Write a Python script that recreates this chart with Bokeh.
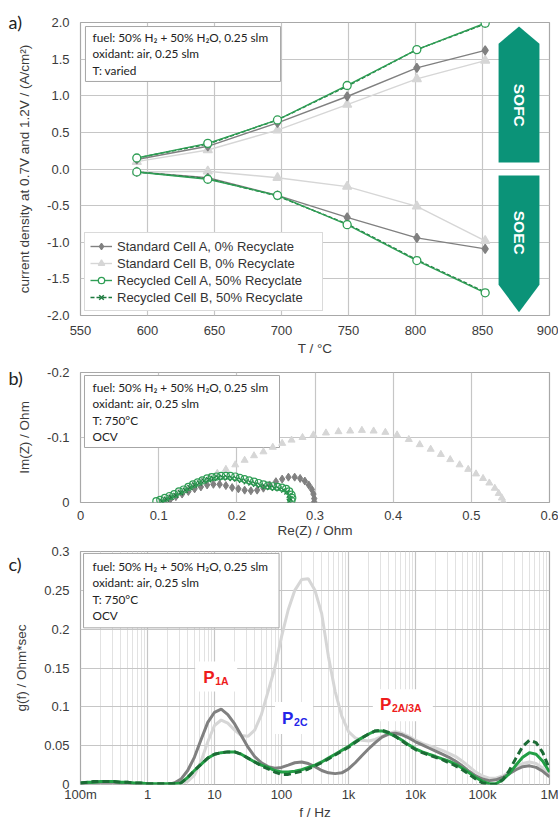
import math
from bokeh.plotting import figure
from bokeh.models import (Range1d, FixedTicker, PrintfTickFormatter, CustomJSTickFormatter,
                          Legend, LegendItem, Label, Title)
from bokeh.layouts import column
from bokeh.embed import file_html
from bokeh.resources import INLINE

# ---------------- panel a: current density vs temperature ----------------
temps = [592, 645, 697, 749, 801, 852]
std_a_sofc = [0.13, 0.31, 0.63, 0.99, 1.38, 1.62]
std_b_sofc = [0.10, 0.26, 0.53, 0.88, 1.23, 1.48]
rec_a_sofc = [0.15, 0.35, 0.67, 1.14, 1.63, 1.99]
rec_b_sofc = [0.15, 0.34, 0.67, 1.13, 1.63, 1.98]
std_a_soec = [-0.04, -0.12, -0.36, -0.66, -0.94, -1.09]
std_b_soec = [-0.04, -0.03, -0.12, -0.24, -0.51, -0.98]
rec_a_soec = [-0.04, -0.14, -0.36, -0.76, -1.25, -1.69]
rec_b_soec = [-0.04, -0.13, -0.37, -0.75, -1.24, -1.68]
series_names = ["Standard Cell A, 0% Recyclate", "Standard Cell B, 0% Recyclate",
                "Recycled Cell A, 50% Recyclate", "Recycled Cell B, 50% Recyclate"]
t_ticks = [550, 600, 650, 700, 750, 800, 850, 900]
j_ticks = [-2.0, -1.5, -1.0, -0.5, 0.0, 0.5, 1.0, 1.5, 2.0]

# ---------------- panel b: Nyquist ----------------
std_b_re = [0.105, 0.115, 0.125, 0.135, 0.145, 0.155, 0.165, 0.175, 0.186, 0.198, 0.21, 0.222,
            0.234, 0.246, 0.258, 0.27, 0.284, 0.298, 0.314, 0.33, 0.345, 0.36, 0.375, 0.39,
            0.405, 0.42, 0.434, 0.448, 0.461, 0.473, 0.485, 0.496, 0.506, 0.515, 0.523, 0.53,
            0.535, 0.539, 0.541]
std_b_im = [-0.004, -0.010, -0.016, -0.022, -0.028, -0.034, -0.039, -0.045, -0.051, -0.058, -0.065,
            -0.072, -0.078, -0.085, -0.091, -0.096, -0.100, -0.104, -0.107, -0.109, -0.110, -0.111,
            -0.110, -0.108, -0.104, -0.097, -0.089, -0.082, -0.074, -0.066, -0.058, -0.051, -0.044,
            -0.037, -0.030, -0.022, -0.014, -0.007, -0.001]
std_a_re = [0.108, 0.115, 0.122, 0.13, 0.138, 0.146, 0.154, 0.162, 0.17, 0.178, 0.186, 0.194, 0.202,
            0.21, 0.218, 0.226, 0.234, 0.242, 0.25, 0.258, 0.266, 0.274, 0.281, 0.287, 0.292, 0.296,
            0.298, 0.299, 0.299]
std_a_im = [0.0, -0.005, -0.009, -0.013, -0.017, -0.021, -0.024, -0.027, -0.028, -0.028, -0.026,
            -0.023, -0.021, -0.019, -0.018, -0.019, -0.022, -0.027, -0.032, -0.036, -0.039, -0.039,
            -0.037, -0.033, -0.027, -0.020, -0.013, -0.006, -0.001]
rec_a_re = [0.097, 0.102, 0.108, 0.114, 0.12, 0.126, 0.132, 0.138, 0.144, 0.15, 0.156, 0.162, 0.168,
            0.174, 0.18, 0.186, 0.192, 0.198, 0.204, 0.21, 0.216, 0.222, 0.228, 0.234, 0.24, 0.246,
            0.252, 0.258, 0.263, 0.267, 0.27, 0.271, 0.27]
rec_a_im = [-0.002, -0.004, -0.007, -0.010, -0.013, -0.017, -0.020, -0.024, -0.028, -0.031, -0.034,
            -0.037, -0.039, -0.040, -0.041, -0.041, -0.041, -0.040, -0.038, -0.036, -0.034, -0.032,
            -0.030, -0.028, -0.026, -0.025, -0.024, -0.023, -0.021, -0.017, -0.012, -0.007, -0.003]
rec_b_re = [0.104, 0.11, 0.116, 0.122, 0.128, 0.134, 0.14, 0.146, 0.152, 0.158, 0.164, 0.17, 0.176,
            0.182, 0.188, 0.194, 0.2, 0.206, 0.212, 0.218, 0.224, 0.23, 0.236, 0.242, 0.248, 0.254,
            0.26, 0.264, 0.267, 0.268, 0.267]
rec_b_im = [-0.002, -0.005, -0.008, -0.011, -0.015, -0.019, -0.023, -0.027, -0.030, -0.033, -0.035,
            -0.037, -0.038, -0.038, -0.038, -0.037, -0.036, -0.034, -0.032, -0.030, -0.028, -0.026,
            -0.024, -0.023, -0.022, -0.021, -0.019, -0.016, -0.011, -0.006, -0.002]
re_ticks = [0, 0.1, 0.2, 0.3, 0.4, 0.5, 0.6]
im_ticks = [-0.2, -0.1, 0]

# ---------------- panel c: DRT ----------------
freq = [0.1, 0.126, 0.158, 0.2, 0.251, 0.316, 0.398, 0.501, 0.631, 0.794,
        1, 1.26, 1.58, 2, 2.51, 3.16, 3.98, 5.01, 6.31, 7.94,
        10, 12.6, 15.8, 20, 25.1, 31.6, 39.8, 50.1, 63.1, 79.4,
        100, 126, 158, 200, 251, 316, 398, 501, 631, 794,
        1e3, 1.26e3, 1.58e3, 2e3, 2.51e3, 3.16e3, 3.98e3, 5.01e3, 6.31e3, 7.94e3,
        1e4, 1.26e4, 1.58e4, 2e4, 2.51e4, 3.16e4, 3.98e4, 5.01e4, 6.31e4, 7.94e4,
        1e5, 1.26e5, 1.58e5, 2e5, 2.51e5, 3.16e5, 3.98e5, 5.01e5, 6.31e5, 7.94e5,
        1e6]
std_a_drt = [0.001, 0.002, 0.003, 0.003, 0.003, 0.003, 0.002, 0.002, 0.001, 0.001,
             0.0, 0.0, 0.0, 0.0, 0.002, 0.007, 0.018, 0.035, 0.058, 0.080,
             0.093, 0.097, 0.090, 0.078, 0.063, 0.048, 0.036, 0.028, 0.023, 0.021,
             0.022, 0.025, 0.028, 0.029, 0.027, 0.023, 0.018, 0.015, 0.014, 0.015,
             0.020, 0.028, 0.037, 0.046, 0.054, 0.061, 0.065, 0.066, 0.064, 0.060,
             0.055, 0.051, 0.047, 0.043, 0.039, 0.035, 0.030, 0.024, 0.017, 0.011,
             0.007, 0.005, 0.006, 0.009, 0.014, 0.019, 0.023, 0.024, 0.022, 0.017,
             0.010]
std_b_drt = [0.001, 0.001, 0.002, 0.002, 0.002, 0.002, 0.002, 0.001, 0.001, 0.001,
             0.0, 0.0, 0.0, 0.0, 0.0, 0.001, 0.004, 0.012, 0.030, 0.055,
             0.076, 0.083, 0.079, 0.070, 0.063, 0.062, 0.070, 0.090, 0.120, 0.150,
             0.190, 0.225, 0.250, 0.264, 0.265, 0.250, 0.220, 0.165, 0.120, 0.088,
             0.068, 0.060, 0.057, 0.056, 0.058, 0.062, 0.066, 0.068, 0.066, 0.062,
             0.057, 0.053, 0.050, 0.047, 0.044, 0.040, 0.036, 0.030, 0.023, 0.016,
             0.011, 0.008, 0.008, 0.011, 0.016, 0.022, 0.027, 0.029, 0.027, 0.021,
             0.012]
rec_a_drt = [0.002, 0.003, 0.003, 0.004, 0.004, 0.004, 0.003, 0.003, 0.002, 0.002,
             0.001, 0.001, 0.001, 0.001, 0.001, 0.002, 0.009, 0.018, 0.026, 0.034,
             0.039, 0.041, 0.042, 0.042, 0.039, 0.034, 0.029, 0.025, 0.022, 0.018,
             0.016, 0.016, 0.017, 0.019, 0.022, 0.025, 0.029, 0.034, 0.039, 0.044,
             0.049, 0.055, 0.060, 0.065, 0.069, 0.069, 0.066, 0.062, 0.057, 0.051,
             0.046, 0.042, 0.039, 0.036, 0.033, 0.030, 0.026, 0.021, 0.015, 0.009,
             0.004, 0.001, 0.001, 0.006, 0.014, 0.025, 0.035, 0.041, 0.039, 0.030,
             0.016]
rec_b_drt = [0.002, 0.003, 0.004, 0.004, 0.004, 0.004, 0.003, 0.003, 0.002, 0.002,
             0.001, 0.001, 0.001, 0.001, 0.001, 0.002, 0.009, 0.018, 0.026, 0.034,
             0.039, 0.041, 0.042, 0.042, 0.039, 0.034, 0.029, 0.024, 0.020, 0.016,
             0.013, 0.013, 0.015, 0.017, 0.020, 0.024, 0.028, 0.033, 0.038, 0.043,
             0.048, 0.054, 0.060, 0.065, 0.069, 0.070, 0.067, 0.062, 0.056, 0.050,
             0.045, 0.041, 0.038, 0.035, 0.032, 0.028, 0.024, 0.019, 0.013, 0.007,
             0.002, 0.0, 0.0, 0.006, 0.018, 0.034, 0.049, 0.057, 0.054, 0.041,
             0.020]
f_tick_values = [0.1, 1, 10, 100, 1e3, 1e4, 1e5, 1e6]
f_tick_labels = ["100m", "1", "10", "100", "1k", "10k", "100k", "1M"]
g_ticks = [0, 0.05, 0.1, 0.15, 0.2, 0.25, 0.3]

box_a_text = "fuel: 50% H\u2082 + 50% H\u2082O, 0.25 slm\noxidant: air, 0.25 slm\nT: varied"
box_bc_text = "fuel: 50% H\u2082 + 50% H\u2082O, 0.25 slm\noxidant: air, 0.25 slm\nT: 750\u00b0C\nOCV"

# ---------------- styling ----------------
FONT_AX = "Liberation Sans"
FONT_BOX = "Lato"
TXT = "#3b3b3b"
GRID = "#c6c6c6"
OUTLINE = "#a8a8a8"
C_STD_A = "#808080"
C_STD_B = "#d6d6d6"
C_REC_A = "#2f9e55"
C_REC_B = "#1d7a3e"
C_DRT_A = "#22a045"
C_DRT_B = "#1c6b35"
TEAL = "#0b9378"
BOX_SIZE = "11.8px"
BOX_LH = 1.08


def style(p, xlabel, ylabel, xstand, xtitle_stand):
    p.outline_line_color = OUTLINE
    p.outline_line_width = 1.2
    for ax in p.axis:
        ax.axis_line_color = None
        ax.major_tick_line_color = None
        ax.minor_tick_line_color = None
        ax.major_tick_in = 0
        ax.major_tick_out = 0
        ax.minor_tick_in = 0
        ax.minor_tick_out = 0
        ax.major_label_text_font = FONT_AX
        ax.major_label_text_font_size = "13px"
        ax.major_label_text_color = TXT
        ax.axis_label_text_font = FONT_AX
        ax.axis_label_text_font_size = "13.5px"
        ax.axis_label_text_font_style = "normal"
        ax.axis_label_text_color = TXT
    p.xaxis.axis_label = xlabel
    p.yaxis.axis_label = ylabel
    p.xaxis.major_label_standoff = xstand
    p.yaxis.major_label_standoff = 11
    p.xaxis.axis_label_standoff = xtitle_stand
    p.yaxis.axis_label_standoff = 12
    p.grid.grid_line_color = GRID
    p.grid.grid_line_width = 1.2


def panel_label(p, text, standoff):
    p.add_layout(Title(text=text, align="left", offset=-72, standoff=standoff, text_font=FONT_BOX,
                       text_font_size="18px", text_font_style="normal", text_color="#222222",
                       vertical_align="bottom"), "above")


clean_fmt = CustomJSTickFormatter(code="return tick == 0 ? '0' : String(parseFloat(tick.toFixed(2)));")

# ================= panel a =================
pa = figure(width=558, height=359, x_range=Range1d(550, 900), y_range=Range1d(-2, 2),
            output_backend="svg", toolbar_location=None,
            min_border_left=80, min_border_right=9, min_border_top=22, min_border_bottom=44)
style(pa, "T / \u00b0C", "current density at 0.7V and 1.2V / (A/cm\u00b2)", 10, 3)
pa.xaxis.ticker = FixedTicker(ticks=t_ticks)
pa.yaxis.ticker = FixedTicker(ticks=j_ticks)
pa.yaxis.formatter = PrintfTickFormatter(format="%.1f")

# info box
pa.quad(left=553.7, right=699.3, top=1.945, bottom=1.195, fill_color="white", line_color="#a6a6a6")
pa.add_layout(Label(x=559, y=1.895, text=box_a_text, text_align="left", text_baseline="top",
                    text_font=FONT_BOX, text_font_size=BOX_SIZE, text_color="#222222",
                    text_line_height=BOX_LH))

# SOFC / SOEC arrows
pa.patch([862, 862, 877.25, 892.5, 892.5], [0.09, 1.71, 1.945, 1.71, 0.09], fill_color=TEAL, line_color=None)
pa.patch([862, 892.5, 892.5, 877.25, 862], [-0.09, -0.09, -1.58, -1.955, -1.58], fill_color=TEAL, line_color=None)
pa.add_layout(Label(x=877.25, y=0.87, text="SOFC", angle=-math.pi / 2, text_align="center",
                    text_baseline="middle", text_color="white", text_font_style="bold",
                    text_font=FONT_AX, text_font_size="15.5px"))
pa.add_layout(Label(x=877.25, y=-0.87, text="SOEC", angle=-math.pi / 2, text_align="center",
                    text_baseline="middle", text_color="white", text_font_style="bold",
                    text_font=FONT_AX, text_font_size="15.5px"))

specs = [
    (std_b_sofc, std_b_soec, C_STD_B, "triangle", C_STD_B, "solid", 1),
    (std_a_sofc, std_a_soec, C_STD_A, "diamond", C_STD_A, "solid", 0),
    (rec_b_sofc, rec_b_soec, C_REC_B, "x", None, "4 2", 3),
    (rec_a_sofc, rec_a_soec, C_REC_A, "circle", "white", "solid", 2),
]
legend_map = {}
for sofc, soec, col, mk, fill, dash, idx in specs:
    rs = []
    for ys in (sofc, soec):
        ln = pa.line(temps, ys, line_color=col, line_width=1.4, line_dash=dash)
        if mk == "x":
            sc = pa.scatter(temps, ys, marker="x", size=8, line_color=col, line_width=1.5)
        else:
            sc = pa.scatter(temps, ys, marker=mk, size=9 if mk != "circle" else 8,
                            line_color=col, fill_color=fill, line_width=1.3)
        rs.append((ln, sc))
    legend_map[idx] = [rs[0][0], rs[0][1]]
items = [LegendItem(label=series_names[i], renderers=legend_map[i]) for i in range(4)]
leg = Legend(items=items, location="bottom_left", margin=4, padding=5, spacing=1,
             glyph_width=22, glyph_height=16, label_height=16, label_standoff=5, label_width=200,
             label_text_font=FONT_AX, label_text_font_size="13px", label_text_color="#333333",
             border_line_color="#b5b5b5", background_fill_alpha=1.0)
pa.add_layout(leg)
panel_label(pa, "a)", -21)

# ================= panel b =================
pb = figure(width=558, height=182, x_range=Range1d(0, 0.6), y_range=Range1d(0, -0.2),
            output_backend="svg", toolbar_location=None,
            min_border_left=80, min_border_right=9, min_border_top=13, min_border_bottom=39)
style(pb, "Re(Z) / Ohm", "Im(Z) / Ohm", 8, 0)
pb.xaxis.ticker = FixedTicker(ticks=re_ticks)
pb.yaxis.ticker = FixedTicker(ticks=im_ticks)
pb.xaxis.formatter = clean_fmt
pb.yaxis.formatter = clean_fmt
pb.quad(left=0.0051, right=0.2546, top=-0.1954, bottom=-0.0846, fill_color="white", line_color="#a6a6a6")
pb.add_layout(Label(x=0.0154, y=-0.188, text=box_bc_text, text_align="left", text_baseline="top",
                    text_font=FONT_BOX, text_font_size=BOX_SIZE, text_color="#222222",
                    text_line_height=BOX_LH))
pb.scatter(std_b_re, std_b_im, marker="triangle", size=7, fill_color=C_STD_B, line_color=C_STD_B)
pb.scatter(std_a_re, std_a_im, marker="diamond", size=8, fill_color=C_STD_A, line_color=C_STD_A)
pb.scatter(rec_b_re, rec_b_im, marker="x", size=7, line_color=C_REC_B, line_width=1.3)
pb.scatter(rec_a_re, rec_a_im, marker="circle", size=7, fill_color=None, line_color=C_REC_A, line_width=1.2)
panel_label(pb, "b)", -33)

# ================= panel c =================
pc = figure(width=558, height=281, x_axis_type="log", x_range=Range1d(0.1, 1e6), y_range=Range1d(0, 0.3),
            output_backend="svg", toolbar_location=None,
            min_border_left=80, min_border_right=9, min_border_top=10, min_border_bottom=36)
style(pc, "f / Hz", "g(f) / Ohm*sec", 2, 0)
minor = [m * d for d in f_tick_values[:-1] for m in range(2, 10)]
pc.xaxis.ticker = FixedTicker(ticks=f_tick_values, minor_ticks=minor)
pc.xaxis.formatter = CustomJSTickFormatter(
    args=dict(vals=f_tick_values, labs=f_tick_labels),
    code="""
    let best = 0, d = 1e9;
    for (let i = 0; i < vals.length; i++) {
      const e = Math.abs(Math.log10(vals[i]) - Math.log10(tick));
      if (e < d) { d = e; best = i; }
    }
    return labs[best];
    """)
pc.yaxis.ticker = FixedTicker(ticks=g_ticks)
pc.yaxis.formatter = clean_fmt
pc.xgrid.minor_grid_line_color = "#e2e2e2"
pc.xgrid.minor_grid_line_width = 1

pc.quad(left=0.111, right=92, top=0.2975, bottom=0.2017, fill_color="white", line_color="#a6a6a6")
pc.add_layout(Label(x=0.151, y=0.29, text=box_bc_text, text_align="left", text_baseline="top",
                    text_font=FONT_BOX, text_font_size=BOX_SIZE, text_color="#222222",
                    text_line_height=BOX_LH))

pc.rect(x=[10.6, 154, 6470], y=[0.139, 0.0855, 0.102], width=[42, 38, 60], height=[30, 32, 32],
        width_units="screen", height_units="screen", fill_color="white", line_color=None)

pc.line(freq, std_b_drt, line_color=C_STD_B, line_width=3)
pc.line(freq, std_a_drt, line_color=C_STD_A, line_width=3)
pc.line(freq, rec_a_drt, line_color=C_DRT_A, line_width=3)
pc.line(freq, rec_b_drt, line_color=C_DRT_B, line_width=3, line_dash="7 4")

for fx, gy, sub, colr in [(6.8, 0.138, "1A", "#ee1c1c"), (102, 0.0855, "2C", "#2424e8"),
                         (2940, 0.1034, "2A/3A", "#ee1c1c")]:
    pc.add_layout(Label(x=fx, y=gy, text="P", text_align="left", text_baseline="middle",
                        text_font=FONT_AX, text_font_style="bold", text_font_size="17px",
                        text_color=colr))
    pc.add_layout(Label(x=fx, y=gy, x_offset=12, y_offset=-4, text=sub, text_align="left",
                        text_baseline="middle", text_font=FONT_AX, text_font_style="bold",
                        text_font_size="10.5px", text_color=colr))
panel_label(pc, "c)", -47)

page = column(pa, pb, pc)
open("out.html", "w").write(file_html(page, INLINE))
